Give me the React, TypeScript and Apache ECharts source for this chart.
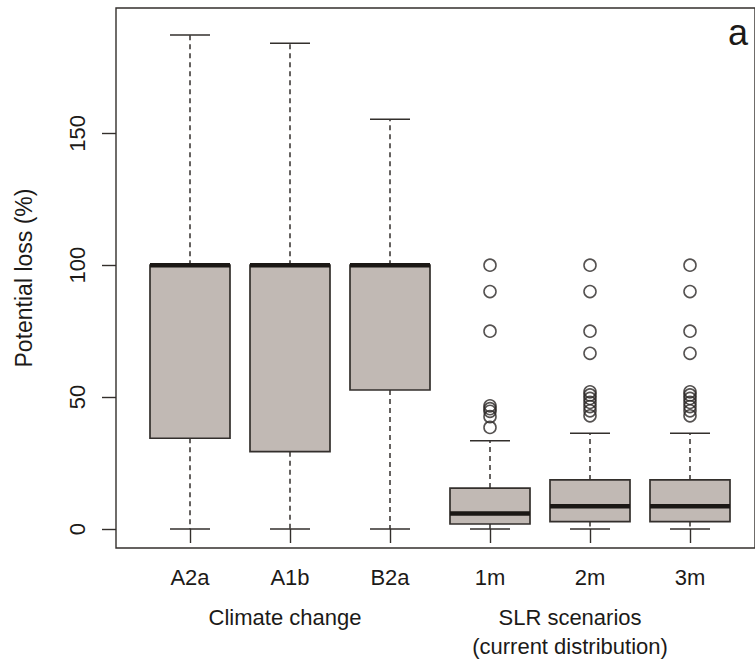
import React, { useEffect, useRef } from "react";
import * as echarts from "echarts";

const categories = ["A2a", "A1b", "B2a", "1m", "2m", "3m"];
const whiskerLow = [0, 0, 0, 0, 0, 0];
const quartile1 = [34.4, 29.3, 52.7, 1.9, 2.8, 2.8];
const medians = [100, 100, 100, 5.9, 8.6, 8.6];
const quartile3 = [100, 100, 100, 15.5, 18.6, 18.6];
const whiskerHigh = [187.3, 184.1, 155.3, 33.5, 36.3, 36.3];
const outliers1m = [100, 90, 75, 46.7, 45.6, 44.6, 42.6, 38.5];
const outliers2m = [100, 90, 75, 66.6, 52.0, 50.8, 49.5, 48.0, 46.4, 44.8, 42.9];
const outliers3m = [100, 90, 75, 66.6, 52.0, 50.8, 49.5, 48.0, 46.4, 44.8, 42.9];
const yTicks = [0, 50, 100, 150];
const groupLabels = ["Climate change", "SLR scenarios", "(current distribution)"];

const FONT = "'Liberation Sans', Arial, Helvetica, sans-serif";
const TEXT = "#1c1a18";
const LINE = "#332f2c";

export default function App() {
  const ref = useRef<HTMLDivElement>(null);
  useEffect(() => {
    if (!ref.current) return;
    const chart = echarts.init(ref.current, undefined, { renderer: "svg" });
    const boxData = categories.map((_, i) => [
      i,
      whiskerLow[i],
      quartile1[i],
      medians[i],
      quartile3[i],
      whiskerHigh[i],
    ]);
    const outlierData: number[][] = [];
    outliers1m.forEach((v) => outlierData.push([3, v]));
    outliers2m.forEach((v) => outlierData.push([4, v]));
    outliers3m.forEach((v) => outlierData.push([5, v]));

    const yMin = -7.2;
    const yMax = 197.5;

    chart.setOption({
      animation: false,
      grid: [
        {
          left: 116,
          top: 8,
          width: 648,
          height: 540,
          show: true,
          borderColor: LINE,
          borderWidth: 1.4,
          backgroundColor: "transparent",
        },
        { left: 140, top: 8, width: 600, height: 540 },
      ],
      xAxis: [
        { gridIndex: 0, type: "value", min: 0, max: 1, show: false },
        {
          gridIndex: 1,
          type: "category",
          data: categories,
          boundaryGap: true,
          axisLine: { show: false },
          axisTick: {
            show: true,
            alignWithLabel: true,
            length: 14,
            lineStyle: { color: LINE, width: 1.4 },
          },
          axisLabel: {
            margin: 18,
            fontSize: 22,
            fontFamily: FONT,
            color: TEXT,
            interval: 0,
          },
          splitLine: { show: false },
        },
      ],
      yAxis: [
        { gridIndex: 0, type: "value", min: 0, max: 1, show: false },
        {
          gridIndex: 1,
          type: "value",
          min: yMin,
          max: yMax,
          offset: 24,
          axisLine: { show: false },
          axisTick: {
            show: true,
            length: 14,
            customValues: yTicks,
            lineStyle: { color: LINE, width: 1.4 },
          },
          axisLabel: {
            rotate: 90,
            margin: 28,
            fontSize: 22,
            fontFamily: FONT,
            color: TEXT,
            customValues: yTicks,
          },
          splitLine: { show: false },
          name: "Potential loss (%)",
          nameLocation: "middle",
          nameRotate: 90,
          nameGap: 81,
          nameTextStyle: { fontSize: 23, fontFamily: FONT, color: TEXT },
        },
      ],
      graphic: [
        {
          type: "text",
          x: 285,
          y: 617,
          style: {
            text: groupLabels[0],
            fontSize: 22,
            fontFamily: FONT,
            fill: TEXT,
            align: "center",
            verticalAlign: "middle",
          },
        },
        {
          type: "text",
          x: 570,
          y: 617,
          style: {
            text: groupLabels[1],
            fontSize: 22,
            fontFamily: FONT,
            fill: TEXT,
            align: "center",
            verticalAlign: "middle",
          },
        },
        {
          type: "text",
          x: 570,
          y: 646,
          style: {
            text: groupLabels[2],
            fontSize: 22,
            fontFamily: FONT,
            fill: TEXT,
            align: "center",
            verticalAlign: "middle",
          },
        },
        {
          type: "text",
          x: 738,
          y: 32,
          style: {
            text: "a",
            fontSize: 36,
            fontFamily: FONT,
            fill: TEXT,
            align: "center",
            verticalAlign: "middle",
          },
        },
      ],
      series: [
        {
          type: "custom",
          xAxisIndex: 1,
          yAxisIndex: 1,
          data: boxData,
          encode: { x: 0, y: [1, 2, 3, 4, 5] },
          renderItem: (params: any, api: any) => {
            const i = api.value(0);
            const cx = api.coord([i, 0])[0];
            const yLo = api.coord([i, api.value(1)])[1];
            const yQ1 = api.coord([i, api.value(2)])[1];
            const yMed = api.coord([i, api.value(3)])[1];
            const yQ3 = api.coord([i, api.value(4)])[1];
            const yHi = api.coord([i, api.value(5)])[1];
            const band = api.size([1, 0])[0];
            const bw = band * 0.8;
            const cw = bw / 2;
            const dash = { stroke: LINE, lineWidth: 1.5, lineDash: [5, 4] };
            const solid = { stroke: LINE, lineWidth: 1.5 };
            return {
              type: "group",
              children: [
                { type: "line", shape: { x1: cx, y1: yQ1, x2: cx, y2: yLo }, style: dash },
                { type: "line", shape: { x1: cx, y1: yQ3, x2: cx, y2: yHi }, style: dash },
                { type: "line", shape: { x1: cx - cw / 2, y1: yLo, x2: cx + cw / 2, y2: yLo }, style: solid },
                { type: "line", shape: { x1: cx - cw / 2, y1: yHi, x2: cx + cw / 2, y2: yHi }, style: solid },
                {
                  type: "rect",
                  shape: { x: cx - bw / 2, y: yQ3, width: bw, height: yQ1 - yQ3 },
                  style: { fill: "#c1b9b4", stroke: LINE, lineWidth: 1.7 },
                },
                {
                  type: "line",
                  shape: { x1: cx - bw / 2, y1: yMed, x2: cx + bw / 2, y2: yMed },
                  style: { stroke: "#1b1815", lineWidth: 4.4 },
                },
              ],
            };
          },
        },
        {
          type: "scatter",
          xAxisIndex: 1,
          yAxisIndex: 1,
          data: outlierData,
          symbol: "circle",
          symbolSize: 12,
          itemStyle: { color: "rgba(0,0,0,0)", borderColor: "#2a2725", borderWidth: 1.6 },
        },
      ],
    });
    return () => chart.dispose();
  }, []);
  return (
    <div
      ref={ref}
      style={{ position: "absolute", left: 0, top: 0, width: 755, height: 662, background: "#fff" }}
    />
  );
}
